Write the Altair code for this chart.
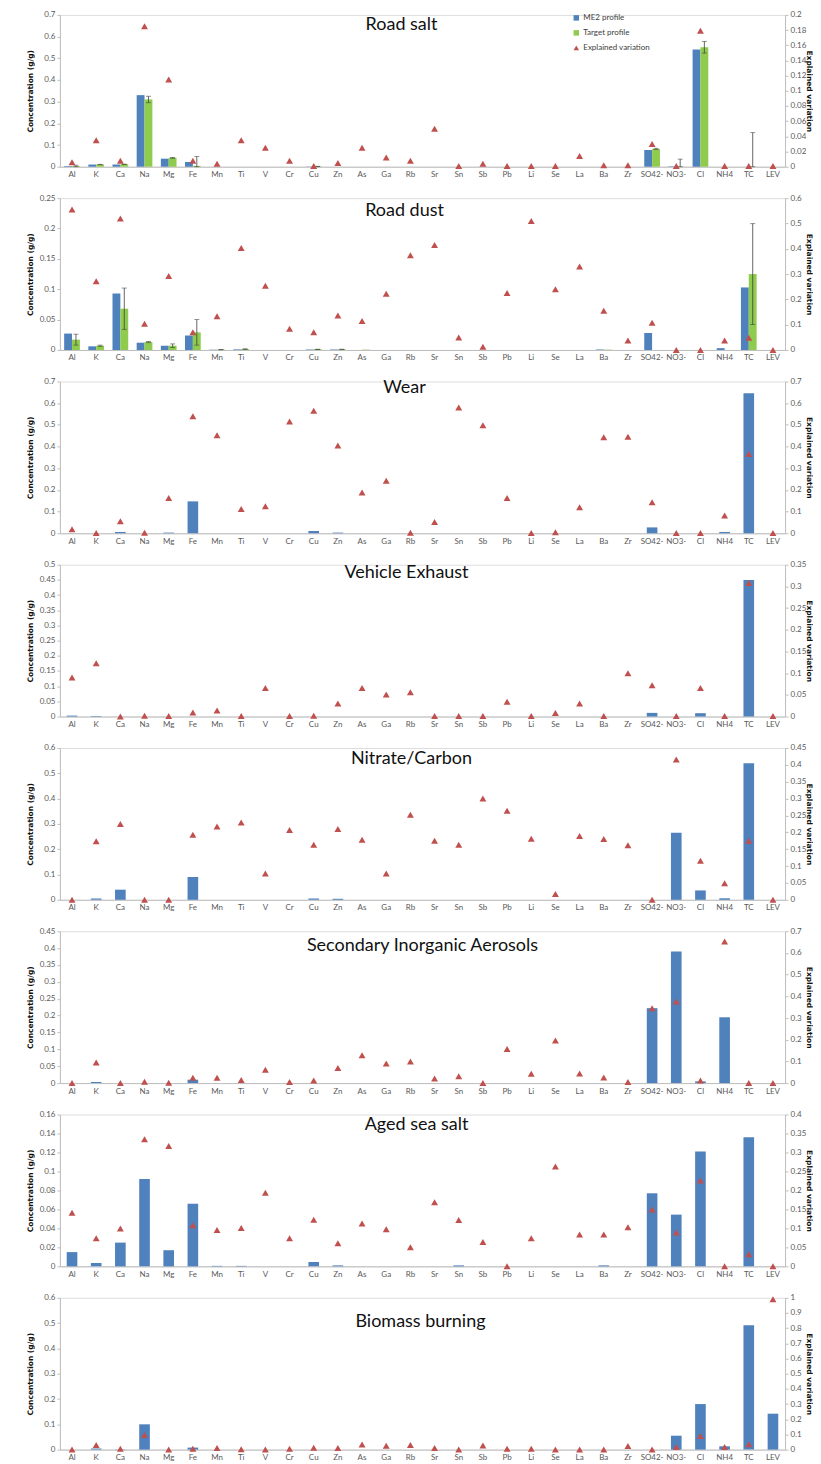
import altair as alt
import pandas as pd

SPECIES = ["Al", "K", "Ca", "Na", "Mg", "Fe", "Mn", "Ti", "V", "Cr", "Cu", "Zn", "As", "Ga",
           "Rb", "Sr", "Sn", "Sb", "Pb", "Li", "Se", "La", "Ba", "Zr", "SO42-", "NO3-", "Cl",
           "NH4", "TC", "LEV"]

SERIES = ["ME2 profile", "Target profile", "Explained variation"]
SERIES_COLORS = ["#4F81BD", "#8FCB4C", "#C0504D"]
SERIES_SHAPES = ["square", "square", "triangle-up"]

PANEL_TITLES = ["Road salt", "Road dust", "Wear", "Vehicle Exhaust", "Nitrate/Carbon",
                "Secondary Inorganic Aerosols", "Aged sea salt", "Biomass burning"]

LEFT_AXIS_MAX = [0.7, 0.25, 0.7, 0.5, 0.6, 0.45, 0.16, 0.6]
LEFT_AXIS_STEP = [0.1, 0.05, 0.1, 0.05, 0.1, 0.05, 0.02, 0.1]
RIGHT_AXIS_MAX = [0.2, 0.6, 0.7, 0.35, 0.45, 0.7, 0.4, 1.0]
RIGHT_AXIS_STEP = [0.02, 0.1, 0.1, 0.05, 0.05, 0.1, 0.05, 0.1]

# ---- Road salt ----
road_salt_me2 = [0.003, 0.01, 0.01, 0.33, 0.037, 0.022, 0, 0, 0, 0, 0.001, 0, 0, 0, 0, 0, 0, 0,
                 0, 0, 0, 0, 0, 0, 0.077, 0.002, 0.54, 0, 0, 0]
road_salt_target = [0.003, 0.01, 0.011, 0.31, 0.041, 0.004, 0, 0, 0, 0, 0.001, 0, 0, 0, 0, 0, 0,
                    0, 0, 0, 0, 0, 0, 0, 0.082, 0.001, 0.551, 0, 0, 0]
road_salt_err = [0.004, 0.001, 0.001, 0.015, 0.002, 0.043, 0, 0, 0, 0, 0.001, 0, 0, 0, 0, 0, 0, 0,
                 0, 0, 0, 0, 0, 0, 0.003, 0.034, 0.027, 0, 0.157, 0]
road_salt_expl = [0.006, 0.035, 0.008, 0.185, 0.115, 0.008, 0.004, 0.035, 0.025, 0.008, 0.001,
                  0.005, 0.025, 0.012, 0.008, 0.05, 0.001, 0.004, 0.001, 0.001, 0.001, 0.014,
                  0.002, 0.002, 0.03, 0.001, 0.179, 0.001, 0.001, 0.001]

# ---- Road dust ----
road_dust_me2 = [0.027, 0.006, 0.093, 0.012, 0.007, 0.024, 0.0005, 0.001, 0, 0, 0.0008, 0.0008, 0,
                 0, 0, 0, 0, 0, 0, 0, 0, 0, 0.0008, 0, 0.028, 0, 0, 0.003, 0.103, 0]
road_dust_target = [0.017, 0.007, 0.068, 0.013, 0.007, 0.029, 0.0006, 0.0015, 0, 0, 0.001, 0.001,
                    0.0006, 0, 0, 0, 0, 0, 0, 0, 0, 0, 0.0006, 0, 0, 0, 0, 0, 0.125, 0]
road_dust_err = [0.009, 0.001, 0.034, 0.001, 0.003, 0.021, 0.0003, 0.0005, 0, 0, 0.0003, 0.0003,
                 0, 0, 0, 0, 0, 0, 0, 0, 0, 0, 0, 0, 0, 0, 0, 0, 0.083, 0]
road_dust_expl = [0.555, 0.272, 0.52, 0.104, 0.292, 0.07, 0.133, 0.403, 0.254, 0.084, 0.07, 0.136,
                  0.115, 0.222, 0.374, 0.415, 0.049, 0.013, 0.225, 0.51, 0.24, 0.33, 0.155, 0.037,
                  0.108, 0.0, 0.0, 0.037, 0.048, 0.0]

# ---- Wear ----
wear_me2 = [0, 0, 0.006, 0, 0.003, 0.147, 0, 0, 0, 0, 0.01, 0.003, 0, 0, 0, 0, 0, 0, 0, 0, 0, 0,
            0, 0, 0.027, 0, 0, 0.006, 0.645, 0]
wear_expl = [0.018, 0.001, 0.055, 0.002, 0.162, 0.54, 0.452, 0.112, 0.124, 0.515, 0.565, 0.405,
             0.188, 0.242, 0.002, 0.052, 0.58, 0.498, 0.162, 0.001, 0.005, 0.12, 0.443, 0.445,
             0.143, 0.001, 0.001, 0.082, 0.365, 0.001]

# ---- Vehicle exhaust ----
exhaust_me2 = [0.003, 0.002, 0, 0, 0, 0, 0, 0, 0, 0, 0, 0, 0, 0, 0, 0, 0, 0, 0, 0, 0, 0, 0, 0,
               0.012, 0, 0.011, 0, 0.45, 0]
exhaust_expl = [0.09, 0.123, 0.0, 0.002, 0.001, 0.009, 0.014, 0.001, 0.066, 0.001, 0.002, 0.03,
                0.066, 0.051, 0.056, 0.001, 0.001, 0.001, 0.034, 0.001, 0.008, 0.03, 0.001, 0.1,
                0.072, 0.001, 0.066, 0.001, 0.308, 0.001]

# ---- Nitrate/Carbon ----
nitrate_me2 = [0, 0.005, 0.04, 0, 0, 0.09, 0, 0, 0, 0, 0.005, 0.004, 0, 0, 0, 0, 0, 0, 0, 0, 0,
               0, 0, 0, 0, 0.265, 0.037, 0.006, 0.54, 0]
nitrate_expl = [0.0, 0.1735, 0.225, 0.0, 0.0, 0.193, 0.217, 0.229, 0.078, 0.207, 0.163, 0.21,
                0.178, 0.078, 0.252, 0.175, 0.163, 0.3, 0.264, 0.181, 0.017, 0.189, 0.18, 0.162,
                0.0, 0.416, 0.116, 0.049, 0.175, 0.0]

# ---- Secondary inorganic aerosols ----
sia_me2 = [0, 0.003, 0, 0, 0, 0.01, 0, 0, 0, 0, 0, 0, 0, 0, 0, 0, 0, 0, 0, 0, 0, 0, 0, 0, 0.222,
           0.39, 0.005, 0.195, 0, 0]
sia_expl = [0.0, 0.095, 0.0, 0.006, 0.001, 0.024, 0.024, 0.014, 0.061, 0.005, 0.012, 0.07, 0.128,
            0.09, 0.1, 0.021, 0.031, 0.0, 0.157, 0.043, 0.196, 0.044, 0.026, 0.005, 0.345, 0.376,
            0.012, 0.653, 0.0, 0.0]

# ---- Aged sea salt ----
aged_me2 = [0.015, 0.0035, 0.025, 0.092, 0.017, 0.066, 0.0005, 0.0005, 0, 0, 0.0045, 0.001, 0, 0,
            0, 0, 0.001, 0, 0, 0, 0, 0, 0.001, 0, 0.077, 0.0545, 0.121, 0, 0.136, 0]
aged_expl = [0.141, 0.074, 0.1, 0.335, 0.317, 0.108, 0.096, 0.101, 0.194, 0.074, 0.123, 0.061,
             0.113, 0.098, 0.05, 0.169, 0.122, 0.064, 0.0, 0.074, 0.263, 0.084, 0.084, 0.103, 0.15,
             0.089, 0.226, 0.0, 0.032, 0.0]

# ---- Biomass burning ----
biomass_me2 = [0, 0.004, 0.001, 0.1, 0, 0.008, 0, 0, 0, 0, 0, 0, 0, 0, 0, 0, 0, 0, 0, 0, 0, 0, 0,
               0, 0, 0.055, 0.18, 0.013, 0.492, 0.142]
biomass_expl = [0.001, 0.03, 0.005, 0.096, 0.001, 0.005, 0.01, 0.002, 0.001, 0.006, 0.012, 0.01,
                0.033, 0.025, 0.03, 0.01, 0.001, 0.027, 0.006, 0.006, 0.001, 0.001, 0.001, 0.024,
                0.001, 0.017, 0.09, 0.017, 0.035, 0.99]

PANELS = [
    (road_salt_me2, road_salt_expl, road_salt_target, road_salt_err),
    (road_dust_me2, road_dust_expl, road_dust_target, road_dust_err),
    (wear_me2, wear_expl, None, None),
    (exhaust_me2, exhaust_expl, None, None),
    (nitrate_me2, nitrate_expl, None, None),
    (sia_me2, sia_expl, None, None),
    (aged_me2, aged_expl, None, None),
    (biomass_me2, biomass_expl, None, None),
]

# ---- layout / style ----
W, H = 726, 152
TITLE_X = [342, 345, 345, 347, 352, 363, 357, 361]          # px from plot left
TITLE_BASELINE = [15.5, 17.5, 12, 13.5, 16, 20, 15, 29]     # px from plot top
AXIS_GRAY = "#BFBFBF"
LABEL_GRAY = "#595959"
FONT = "Lato"


def ticks(vmax, step):
    n = int(round(vmax / step))
    return [round(k * step, 4) for k in range(n + 1)]


def make_panel(i):
    me2, expl, target, err = PANELS[i]
    has_t = target is not None
    pad = 0.35 if has_t else 0.56

    x = alt.X("sp:N", sort=SPECIES,
              scale=alt.Scale(domain=SPECIES, paddingInner=pad, paddingOuter=pad / 2),
              axis=alt.Axis(title=None, labelAngle=0, ticks=False, labelPadding=4,
                            labelFontSize=8, labelFont=FONT, labelColor=LABEL_GRAY,
                            domainColor=AXIS_GRAY, labelLimit=60))

    left_axis = alt.Axis(values=ticks(LEFT_AXIS_MAX[i], LEFT_AXIS_STEP[i]), format="~g",
                         title="Concentration (g/g)", grid=False, orient="left",
                         minExtent=20, maxExtent=20, titlePadding=5,
                         titleFont="DejaVu Sans", titleFontSize=7.5, titleFontWeight="bold",
                         titleColor="#111111", labelFont=FONT, labelFontSize=8,
                         labelColor=LABEL_GRAY, domainColor=AXIS_GRAY, tickColor=AXIS_GRAY,
                         tickSize=3, labelPadding=2)
    yscale = alt.Scale(domain=[0, LEFT_AXIS_MAX[i]], nice=False, zero=True)

    def yl():
        return alt.Y("v:Q", scale=yscale, axis=left_axis)

    color_legend = None
    if i == 0:
        color_legend = alt.Legend(title=None, orient="none", legendX=513, legendY=-1,
                                  direction="vertical", labelFont=FONT, labelFontSize=8,
                                  labelColor="#404040", symbolSize=30, rowPadding=7,
                                  labelOffset=3, symbolStrokeWidth=0)
    color = alt.Color("series:N", scale=alt.Scale(domain=SERIES, range=SERIES_COLORS),
                      legend=color_legend)
    shape_legend = color_legend

    rows = []
    for k, s in enumerate(SPECIES):
        rows.append({"sp": s, "series": "ME2 profile", "v": me2[k]})
        if has_t:
            rows.append({"sp": s, "series": "Target profile", "v": target[k]})
    bars_df = pd.DataFrame(rows)

    enc = dict(x=x, y=yl(), color=color)
    xoff = None
    if has_t:
        xoff = alt.XOffset("series:N",
                           scale=alt.Scale(domain=["ME2 profile", "Target profile"],
                                           paddingInner=0, paddingOuter=0))
        enc["xOffset"] = xoff
    bars = alt.Chart(bars_df).mark_bar().encode(**enc)

    layers = [bars]
    if has_t:
        err_rows, cap_rows = [], []
        for k, s in enumerate(SPECIES):
            if err[k] > 0:
                lo = max(0.0, target[k] - err[k])
                hi = target[k] + err[k]
                err_rows.append({"sp": s, "series": "Target profile", "v": lo, "v2": hi})
                cap_rows.append({"sp": s, "series": "Target profile", "v": lo})
                cap_rows.append({"sp": s, "series": "Target profile", "v": hi})
        rules = alt.Chart(pd.DataFrame(err_rows)).mark_rule(color="#404040", strokeWidth=0.8).encode(
            x=x, xOffset=xoff, y=yl(), y2="v2:Q")
        caps = alt.Chart(pd.DataFrame(cap_rows)).mark_tick(color="#404040", thickness=0.8,
                                                          size=5).encode(
            x=x, xOffset=xoff, y=yl())
        layers += [rules, caps]

    title_df = pd.DataFrame({"t": [PANEL_TITLES[i]]})
    title = alt.Chart(title_df).mark_text(font=FONT, fontSize=18, color="#111111",
                                          baseline="alphabetic", align="center").encode(
        text="t:N", x=alt.value(TITLE_X[i]), y=alt.value(TITLE_BASELINE[i]))
    layers.append(title)

    left = alt.layer(*layers)

    tri_df = pd.DataFrame({"sp": SPECIES, "e": expl, "series": "Explained variation"})
    right_axis = alt.Axis(values=ticks(RIGHT_AXIS_MAX[i], RIGHT_AXIS_STEP[i]), format="~g",
                          title="Explained variation", grid=False, orient="right",
                          minExtent=18, maxExtent=18, titlePadding=1,
                          titleFont="DejaVu Sans", titleFontSize=7.5, titleFontWeight="bold",
                          titleColor="#111111", labelFont=FONT, labelFontSize=8,
                          labelColor=LABEL_GRAY, domainColor=AXIS_GRAY, tickColor=AXIS_GRAY,
                          tickSize=3, labelPadding=2)
    tri = alt.Chart(tri_df).mark_point(filled=True, size=48, opacity=1).encode(
        x=x,
        y=alt.Y("e:Q", scale=alt.Scale(domain=[0, RIGHT_AXIS_MAX[i]], nice=False, zero=True),
                axis=right_axis),
        color=color,
        shape=alt.Shape("series:N", scale=alt.Scale(domain=SERIES, range=SERIES_SHAPES),
                        legend=shape_legend),
    )

    return alt.layer(left, tri).resolve_scale(y="independent").properties(width=W, height=H)


panels = [make_panel(i) for i in range(len(PANELS))]

chart = alt.vconcat(*panels, spacing=13.5).resolve_scale(
    color="independent", shape="independent"
).properties(
    padding={"left": 18, "top": 1, "right": 0, "bottom": 0}
).configure_view(stroke=None).configure(background="white")

chart.save("out.html", embed_options={"renderer": "svg", "actions": False})
